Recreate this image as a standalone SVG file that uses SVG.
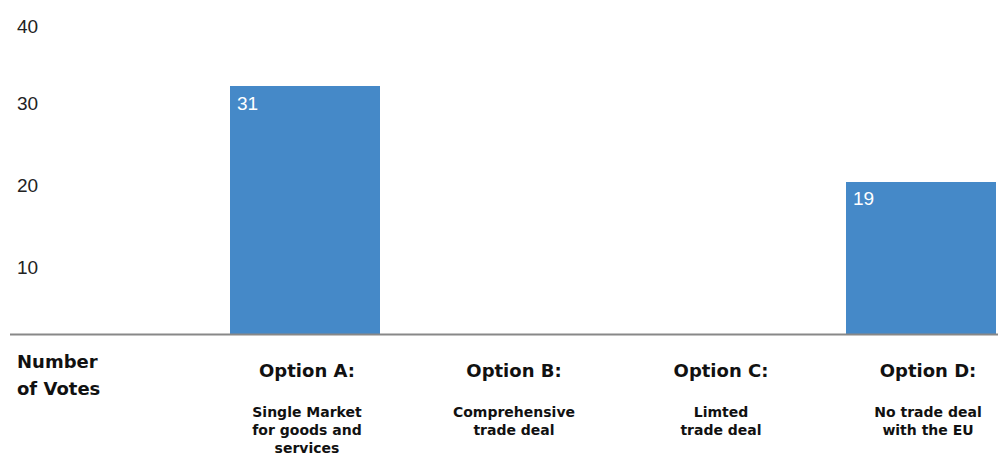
<svg xmlns="http://www.w3.org/2000/svg" width="998" height="457" viewBox="0 0 998 457">
<style>
.ax{font-family:"Liberation Sans",Arial,sans-serif;font-size:19px;fill:#222}
.val{font-family:"Liberation Sans",Arial,sans-serif;font-size:19px;fill:#fff}
.opt{font-family:"DejaVu Sans",sans-serif;font-size:18px;font-weight:bold;fill:#111;text-anchor:middle}
.sub{font-family:"DejaVu Sans",sans-serif;font-size:14px;font-weight:bold;fill:#111;text-anchor:middle}
.bar{fill:#4589c8}
</style>
<rect width="998" height="457" fill="#fff"/>
<g id="yaxis">
<text class="ax" x="17" y="33">40</text>
<text class="ax" x="17" y="110">30</text>
<text class="ax" x="17" y="192">20</text>
<text class="ax" x="17" y="274">10</text>
</g>
<g id="barA"><rect class="bar" x="230" y="86" width="150" height="248"/><text class="val" x="237" y="110">31</text></g>
<g id="barD"><rect class="bar" x="846" y="182" width="150" height="152"/><text class="val" x="853" y="205">19</text></g>
<g id="connectors"><line x1="10" y1="334.5" x2="998" y2="334.5" stroke="#888" stroke-width="2"/></g>
<g id="title"><text class="opt" style="text-anchor:start" x="17" y="368">Number</text><text class="opt" style="text-anchor:start" x="17" y="395">of Votes</text></g>
<g id="optA"><text class="opt" x="307" y="377">Option A:</text><text class="sub" x="307" y="417">Single Market</text><text class="sub" x="307" y="435">for goods and</text><text class="sub" x="307" y="453">services</text></g>
<g id="optB"><text class="opt" x="514" y="377">Option B:</text><text class="sub" x="514" y="417">Comprehensive</text><text class="sub" x="514" y="435">trade deal</text></g>
<g id="optC"><text class="opt" x="721" y="377">Option C:</text><text class="sub" x="721" y="417">Limted</text><text class="sub" x="721" y="435">trade deal</text></g>
<g id="optD"><text class="opt" x="928" y="377">Option D:</text><text class="sub" x="928" y="417">No trade deal</text><text class="sub" x="928" y="435">with the EU</text></g>
</svg>
